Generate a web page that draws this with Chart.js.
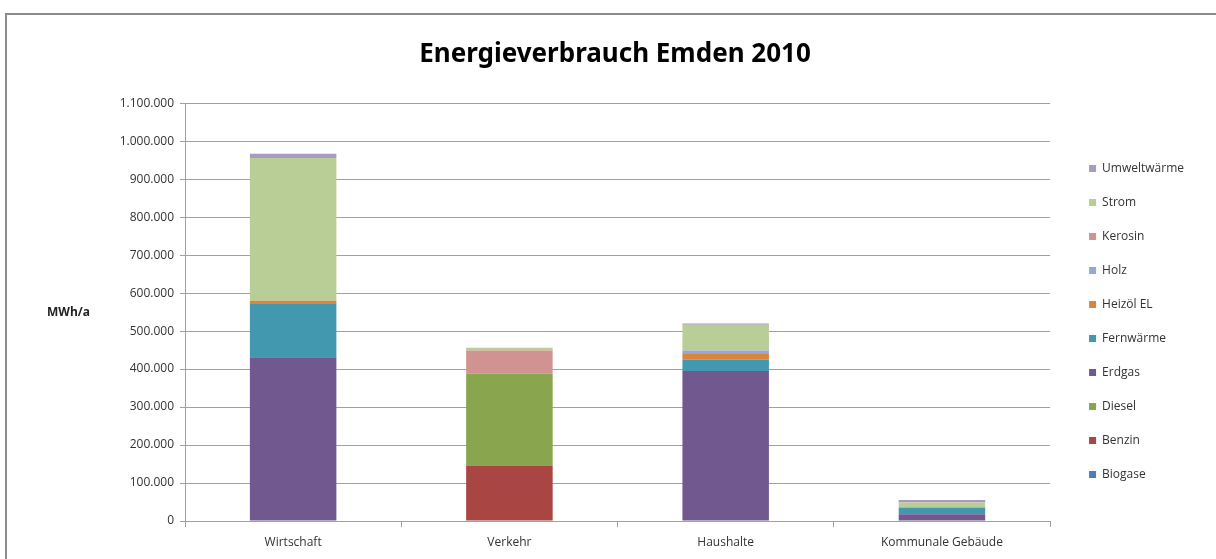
<!DOCTYPE html>
<html>
<head>
<meta charset="utf-8">
<script src="https://cdn.jsdelivr.net/npm/chart.js@4.4.1/dist/chart.umd.min.js"></script>
<style>
  body { margin: 0; background: #fff; }
  #frame { position: absolute; left: 5px; top: 13px; width: 1230px; height: 570px;
           border-left: 2px solid #8c8c8c; border-top: 2px solid #8c8c8c; }
  #wrap { position: absolute; left: 0; top: 0; width: 1216px; height: 559px; }
</style>
</head>
<body>
<div id="frame"></div>
<div id="wrap"><canvas id="myChart"></canvas></div>
<script>
const categories = ['Wirtschaft', 'Verkehr', 'Haushalte', 'Kommunale Gebäude'];

// MWh/a
const biogase     = [0, 0, 0, 0];
const benzin      = [0, 146000, 0, 0];
const diesel      = [0, 242000, 0, 0];
const erdgas      = [431000, 0, 395000, 18000];
const fernwaerme  = [142000, 0, 30000, 17000];
const heizoel     = [7000, 0, 15000, 1000];
const holz        = [0, 0, 9000, 0];
const kerosin     = [0, 61000, 0, 0];
const strom       = [376000, 7000, 68000, 13000];
const umweltwaerme = [11000, 0, 3000, 6000];

const yTicks = [0, 100000, 200000, 300000, 400000, 500000, 600000, 700000, 800000, 900000, 1000000, 1100000];

Chart.defaults.font.family = 'Open Sans';
Chart.defaults.color = '#333333';

function fmt(v) {
  return String(v).replace(/\B(?=(\d{3})+(?!\d))/g, '.');
}

const series = [
  ['Biogase', biogase, '#4a7ebb'],
  ['Benzin', benzin, '#a94643'],
  ['Diesel', diesel, '#89a54e'],
  ['Erdgas', erdgas, '#71588f'],
  ['Fernwärme', fernwaerme, '#4198af'],
  ['Heizöl EL', heizoel, '#db843d'],
  ['Holz', holz, '#93a9cf'],
  ['Kerosin', kerosin, '#d19392'],
  ['Strom', strom, '#b9cd96'],
  ['Umweltwärme', umweltwaerme, '#a99bbd']
];

const unitLabel = {
  id: 'unitLabel',
  afterDraw(chart) {
    const c = chart.ctx;
    c.save();
    c.font = 'bold 12px "Open Sans"';
    c.fillStyle = '#222';
    c.textBaseline = 'middle';
    c.fillText('MWh/a', 47, 313);
    c.restore();
  }
};

// nudge legend and title to where the original places them
const boxShift = {
  id: 'boxShift',
  afterLayout(chart) {
    chart.legend.left += 17;
    chart.legend.right += 17;
    chart.legend.top += 42;
    chart.legend.bottom += 42;
    chart.titleBlock.left += 24;
    chart.titleBlock.right += 24;
  }
};

const ctx = document.getElementById('myChart');

new Chart(ctx, {
  type: 'bar',
  data: {
    labels: categories,
    datasets: series.map(s => ({
      label: s[0],
      data: s[1],
      backgroundColor: s[2],
      borderWidth: 0
    }))
  },
  options: {
    responsive: true,
    maintainAspectRatio: false,
    animation: false,
    layout: { padding: { left: 5, right: 39, top: 0, bottom: 0 } },
    datasets: { bar: { categoryPercentage: 1, barPercentage: 0.4 } },
    scales: {
      x: {
        stacked: true,
        grid: { offset: true, drawOnChartArea: false, tickLength: 6, color: '#a0a0a0' },
        border: { color: '#a0a0a0' },
        ticks: { font: { size: 12 }, color: '#333', padding: 8 },
        afterFit(scale) { scale.height = 38; }
      },
      y: {
        stacked: true,
        min: 0,
        max: 1100000,
        afterBuildTicks(scale) { scale.ticks = yTicks.map(v => ({ value: v })); },
        grid: { color: '#a0a0a0', tickLength: 5 },
        border: { color: '#a0a0a0' },
        ticks: { font: { size: 12 }, color: '#333', padding: 6, callback: v => fmt(v) },
        afterFit(scale) { scale.width = 180; }
      }
    },
    plugins: {
      title: {
        display: true,
        text: 'Energieverbrauch Emden 2010',
        font: { size: 26, weight: 'bold', family: 'Noto Sans' },
        color: '#000',
        padding: { top: 39, bottom: 33 }
      },
      legend: {
        position: 'right',
        reverse: true,
        labels: {
          boxWidth: 7,
          boxHeight: 7,
          padding: 22,
          font: { size: 12 },
          color: '#333'
        }
      },
      tooltip: { enabled: false }
    }
  },
  plugins: [unitLabel, boxShift]
});
</script>
</body>
</html>
